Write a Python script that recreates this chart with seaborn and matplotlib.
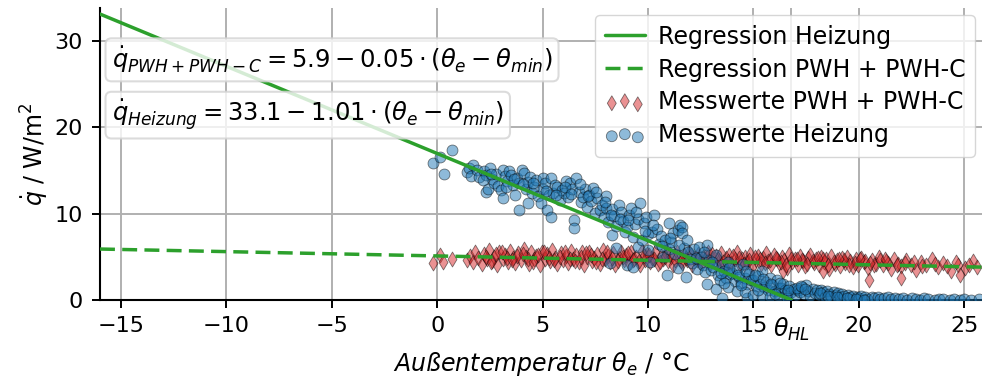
import numpy as np
import pandas as pd
import matplotlib
matplotlib.use("Agg")
import matplotlib.pyplot as plt
import seaborn as sns

# ---------------- data ----------------
reg_heiz_x = [-16.0, 16.8]
reg_heiz_y = [33.1, 0.0]
reg_pwh_x = [-16.0, 26.0]
reg_pwh_y = [5.9, 3.8]
theta_hl = 16.8

heiz_points = [
    (-0.2, 15.9), (0.15, 16.5), (0.7, 17.4), (0.3, 14.6),
    (1.4, 14.8), (1.5, 15.3), (1.7, 15.6), (1.6, 14.4), (1.9, 15.0), (2.0, 14.2), (2.2, 14.9),
    (2.3, 14.5), (2.3, 12.5), (2.4, 12.9), (2.5, 15.3), (2.6, 14.0), (2.7, 13.6), (2.8, 14.6),
    (2.9, 13.2), (3.0, 12.7), (3.1, 11.8), (3.1, 15.1), (3.2, 14.3), (3.3, 13.8), (3.4, 14.9),
    (3.5, 14.5), (3.6, 13.3), (3.7, 12.2), (3.8, 14.1), (3.9, 10.4), (3.9, 13.6), (4.0, 15.0),
    (4.1, 14.7), (4.2, 12.8), (4.3, 11.2), (4.3, 13.7), (4.4, 14.2), (4.5, 12.4), (4.6, 13.1),
    (4.7, 13.9), (4.8, 12.0), (4.9, 11.2), (5.0, 14.1), (5.0, 12.9),
    (5.1, 13.6), (5.2, 10.4), (5.3, 12.2), (5.4, 9.6), (5.4, 14.1), (5.5, 12.4), (5.6, 13.3),
    (5.7, 13.1), (5.8, 11.6), (5.9, 12.7), (6.0, 12.4), (6.1, 13.8), (6.2, 11.9), (6.3, 13.5),
    (6.4, 12.9), (6.5, 9.3), (6.5, 8.3), (6.6, 14.1), (6.7, 12.5), (6.8, 11.3), (6.9, 11.9),
    (7.0, 12.8), (7.1, 10.8), (7.2, 12.2), (7.3, 11.5), (7.4, 13.0), (7.5, 10.1), (7.6, 11.8),
    (7.7, 10.4), (7.8, 11.0), (7.9, 9.6), (8.0, 10.7), (8.0, 12.0),
    (8.1, 9.0), (8.2, 4.3), (8.3, 7.5), (8.3, 10.5), (8.4, 9.7), (8.5, 6.0), (8.5, 8.6),
    (8.6, 11.0), (8.7, 10.2), (8.8, 9.1), (8.9, 7.9), (9.0, 8.5), (9.0, 4.1), (9.1, 9.8),
    (9.2, 10.6), (9.3, 7.3), (9.3, 3.8), (9.4, 8.8), (9.5, 6.1), (9.5, 9.4), (9.6, 11.2),
    (9.7, 7.0), (9.8, 8.9), (9.9, 9.6), (10.0, 5.8), (10.0, 7.6), (10.1, 4.4), (10.2, 7.9),
    (10.3, 9.8), (10.4, 8.2), (10.5, 6.5), (10.6, 7.4), (10.7, 5.0), (10.8, 6.9), (10.9, 2.9),
    (11.0, 8.9), (11.0, 5.9), (11.1, 6.7), (11.2, 7.7), (11.3, 5.3), (11.4, 8.1), (11.4, 3.7),
    (11.5, 8.7), (11.6, 8.5), (11.6, 7.8), (11.7, 6.0), (11.8, 2.7), (11.9, 5.6), (12.0, 4.8),
    (12.1, 4.3), (12.2, 5.9), (12.3, 3.6), (12.4, 6.1), (12.5, 5.0), (12.6, 4.1), (12.7, 3.2),
    (12.8, 6.4), (12.9, 4.6), (13.0, 3.5), (13.1, 3.8), (13.2, 5.2), (13.3, 2.9), (13.4, 2.3),
    (13.5, 0.2), (13.5, 4.0), (13.6, 3.3), (13.7, 2.6), (13.8, 4.4), (13.9, 3.0), (14.0, 3.1),
    (14.1, 2.2), (14.2, 3.6), (14.3, 2.7), (14.4, 2.0), (14.5, 4.2), (14.6, 2.5), (14.7, 0.2),
    (14.7, 1.8), (14.8, 3.0), (14.9, 2.3), (15.0, 2.3), (15.1, 1.6), (15.2, 2.8), (15.3, 1.9),
    (15.4, 3.4), (15.5, 1.5), (15.6, 2.1), (15.7, 1.2), (15.8, 2.6), (15.9, 1.7), (16.0, 1.0),
    (16.1, 2.3), (16.2, 1.4), (16.3, 1.4), (16.4, 1.9), (16.5, 1.1), (16.6, 0.8), (16.7, 1.6),
    (16.8, 0.9), (16.9, 1.3),
    (12.8, 1.9), (13.2, 1.3), (13.8, 1.5), (14.2, 1.0), (14.6, 0.9), (15.0, 0.6), (15.4, 0.5),
    (15.8, 0.4), (16.2, 0.3), (16.6, 0.2), (13.6, 2.0), (14.4, 1.7), (15.2, 1.1), (16.0, 0.7),
    (17.0, 0.6), (17.1, 1.2), (17.2, 0.9), (17.3, 1.5), (17.4, 0.7), (17.5, 1.7), (17.6, 1.0),
    (17.7, 0.5), (17.8, 1.3), (17.9, 0.8), (18.0, 1.1), (18.1, 0.6), (18.2, 1.2), (18.3, 0.9),
    (18.4, 0.4), (18.5, 1.0), (18.6, 0.7), (18.7, 0.5), (18.8, 0.9), (18.9, 0.6), (19.0, 0.8),
    (19.1, 0.4), (19.2, 0.7), (19.3, 0.5), (19.5, 0.6), (19.6, 0.3), (19.7, 0.5), (19.9, 0.4),
    (20.0, 0.2), (20.1, 0.5), (20.3, 0.3), (20.4, 0.1), (20.6, 0.4), (20.7, 0.2), (20.9, 0.3),
    (21.0, 0.1), (21.2, 0.2), (21.4, 0.3), (21.5, 0.1), (21.7, 0.2), (21.9, 0.1), (22.1, 0.2),
    (22.3, 0.0), (22.5, 0.2), (22.7, 0.1), (22.9, 0.0), (23.1, 0.2), (23.3, 0.1), (23.6, 0.0),
    (23.8, 0.1), (24.0, 0.1), (24.3, 0.0), (24.5, 0.1), (24.8, 0.0), (25.0, 0.1), (25.3, 0.0),
    (25.7, 0.1), (17.05, 1.4), (17.25, 1.6), (17.45, 1.3),
    (2.15, 13.9), (2.55, 14.6), (3.25, 13.1), (3.65, 14.0), (4.05, 13.4), (4.55, 13.6),
    (5.15, 12.6), (5.65, 12.1), (6.05, 13.1), (6.35, 12.3), (6.75, 13.4), (7.15, 12.0),
    (7.55, 12.5), (7.95, 11.4), (8.25, 9.8), (8.65, 9.4), (9.05, 9.3), (9.45, 10.2),
    (9.85, 8.0), (10.25, 8.7), (10.65, 6.2), (11.05, 7.2), (11.45, 6.4), (11.85, 7.0),
    (12.25, 4.9), (12.65, 5.5), (13.05, 4.4), (13.45, 3.1), (13.85, 3.7), (14.25, 2.9),
    (14.65, 3.4), (15.05, 2.9), (15.45, 2.4), (15.85, 1.9), (16.25, 2.0), (16.65, 1.2),
    (18.15, 0.8), (18.55, 0.5), (18.95, 0.3), (19.45, 0.2), (19.85, 0.1), (20.25, 0.0),
]

pwh_points = [
    (-0.2, 4.3), (0.15, 5.2), (0.25, 4.4), (0.7, 4.8),
    (1.4, 4.6), (1.55, 5.1), (1.7, 4.4), (1.8, 5.5), (1.95, 4.9), (2.1, 4.2), (2.2, 5.3),
    (2.35, 4.7), (2.45, 5.8), (2.6, 4.5), (2.7, 5.0), (2.85, 4.1), (2.95, 5.6), (3.1, 4.8),
    (3.2, 5.2), (3.35, 4.4), (3.45, 5.7), (3.6, 4.9), (3.7, 4.3), (3.85, 5.4), (3.95, 4.6),
    (4.1, 5.9), (4.2, 5.0), (4.35, 4.2), (4.45, 5.5), (4.6, 4.7), (4.7, 5.1), (4.85, 4.0),
    (4.95, 5.6), (5.1, 4.8), (5.2, 5.3), (5.35, 4.5), (5.45, 5.8), (5.6, 4.9), (5.7, 4.2),
    (5.85, 5.4), (5.95, 4.6), (6.1, 5.1), (6.2, 4.3), (6.35, 5.7), (6.45, 4.8), (6.6, 5.2),
    (6.7, 4.4), (6.85, 5.5), (6.95, 4.1), (7.1, 5.0), (7.2, 5.6), (7.35, 4.5), (7.45, 4.9),
    (7.6, 5.3), (7.7, 4.2), (7.85, 5.8), (7.95, 4.7), (8.1, 5.1), (8.2, 4.4), (8.35, 5.4),
    (8.45, 4.0), (8.6, 4.9), (8.7, 5.6), (8.85, 4.6), (8.95, 5.2), (9.1, 4.3), (9.2, 5.5),
    (9.35, 4.8), (9.45, 5.0), (9.6, 4.1), (9.7, 5.7), (9.85, 4.6), (9.95, 5.3), (10.1, 4.4),
    (10.2, 4.9), (10.35, 5.5), (10.45, 4.2), (10.6, 5.1), (10.7, 4.7), (10.85, 5.4),
    (10.95, 4.5), (11.1, 5.0), (11.2, 4.0), (11.35, 5.6), (11.45, 4.8), (11.6, 4.3),
    (11.7, 5.2), (11.85, 4.6), (11.95, 5.5), (12.1, 4.1), (12.2, 4.9), (12.35, 5.3),
    (12.45, 4.4), (12.6, 5.0), (12.7, 4.7), (12.85, 5.6), (12.95, 4.2), (13.1, 4.8),
    (13.2, 5.1), (13.35, 4.5), (13.45, 5.4), (13.6, 3.9), (13.7, 4.9), (13.85, 5.2),
    (13.95, 4.3), (14.1, 4.7), (14.2, 5.5), (14.35, 4.1), (14.45, 4.8), (14.6, 5.0),
    (14.7, 4.4), (14.85, 5.3), (14.95, 3.8), (15.1, 4.6), (15.2, 5.1), (15.35, 4.2),
    (15.45, 4.9), (15.6, 5.4), (15.7, 4.5), (15.85, 4.0), (15.95, 5.2), (16.1, 4.7),
    (16.2, 4.3), (16.35, 5.0), (16.45, 4.6), (16.6, 3.7), (16.7, 5.3), (16.85, 4.4),
    (16.95, 4.8), (17.1, 4.1), (17.2, 5.1), (17.35, 4.5), (17.45, 3.9), (17.6, 4.9),
    (17.7, 5.2), (17.85, 4.3), (17.95, 4.7), (18.1, 4.0), (18.2, 5.0), (18.35, 4.4),
    (18.45, 4.8), (18.6, 3.6), (18.7, 5.1), (18.85, 4.2), (18.95, 4.6), (19.1, 3.9),
    (19.2, 4.9), (19.35, 4.3), (19.45, 5.0), (19.6, 4.5), (19.7, 3.8), (19.85, 4.7),
    (19.95, 4.1), (20.1, 4.9), (20.25, 4.4), (20.45, 3.7), (20.6, 4.6), (20.8, 4.2),
    (20.95, 5.0), (21.15, 4.0), (21.3, 4.5), (21.5, 3.6), (21.65, 4.8), (21.85, 4.2),
    (22.0, 3.9), (22.25, 4.6), (22.45, 4.1), (22.7, 3.5), (22.95, 4.4), (23.2, 4.0),
    (23.45, 4.7), (23.75, 3.8), (24.0, 4.3), (24.35, 3.4), (24.7, 4.1), (25.05, 3.7),
    (25.4, 4.5), (20.5, 2.3), (22.0, 2.6), (24.8, 2.9), (18.3, 3.3), (16.4, 3.4),
    (2.3, 5.0), (2.8, 5.3), (3.3, 4.9), (3.8, 5.1), (4.3, 4.8), (4.8, 5.2), (5.3, 4.9),
    (5.8, 5.0), (6.3, 4.7), (6.8, 5.0), (7.3, 5.2), (7.8, 4.8), (8.3, 4.9), (8.8, 5.0),
    (9.3, 4.6), (9.8, 5.1), (10.3, 4.7), (10.8, 5.0), (11.3, 4.6), (11.8, 4.9), (12.3, 4.6),
    (12.8, 5.0), (13.3, 4.7), (13.8, 4.5), (14.3, 4.9), (14.8, 4.6), (15.3, 4.7), (15.8, 4.6),
    (16.3, 4.4), (16.8, 4.7), (17.3, 4.6), (17.8, 4.5), (18.3, 4.7), (18.8, 4.4), (19.3, 4.6),
    (19.8, 4.3), (20.3, 4.5), (20.7, 4.1), (21.0, 4.6), (21.4, 4.3), (21.8, 4.0), (22.2, 4.3),
    (22.6, 4.4), (23.0, 3.9), (23.6, 4.2), (24.2, 3.9), (24.6, 4.4), (25.2, 4.0), (25.6, 3.8),
    (2.55, 4.4), (3.05, 5.5), (3.55, 4.6), (4.05, 5.3), (4.55, 4.4), (5.05, 5.5), (5.55, 4.6),
    (6.05, 5.6), (6.55, 4.5), (7.05, 5.4), (7.55, 4.4), (8.05, 5.5), (8.55, 4.5), (9.05, 5.4),
    (9.55, 4.5), (10.05, 5.2), (10.55, 4.4), (11.05, 5.3), (11.55, 4.5), (12.05, 5.2),
    (12.55, 4.3), (13.05, 5.3), (13.55, 4.4), (14.05, 5.1), (14.55, 4.2), (15.05, 5.0),
    (15.55, 4.3), (16.05, 4.9), (16.55, 4.1), (17.05, 4.8), (17.55, 4.2), (18.05, 4.9),
    (18.55, 4.1), (19.05, 4.7), (19.55, 4.0), (20.05, 4.7), (20.55, 4.3), (21.25, 4.8),
]

heiz_x = [p[0] for p in heiz_points]
heiz_y = [p[1] for p in heiz_points]
pwh_x = [p[0] for p in pwh_points]
pwh_y = [p[1] for p in pwh_points]

eq_pwh = r"$\dot{q}_{PWH+PWH-C} = 5.9 - 0.05 \cdot (\theta_e - \theta_{min})$"
eq_heiz = r"$\dot{q}_{Heizung} = 33.1 - 1.01 \cdot (\theta_e - \theta_{min})$"
x_ticks = [-15, -10, -5, 0, 5, 10, 15, 20, 25]
y_ticks = [0, 10, 20, 30]

# ---------------- plot ----------------
sns.set_style("ticks")
plt.rcParams["font.family"] = ["DejaVu Sans"]
plt.rcParams["mathtext.fontset"] = "dejavusans"
for k in ["text.color", "axes.labelcolor", "xtick.color", "ytick.color", "axes.edgecolor"]:
    plt.rcParams[k] = "black"

fig = plt.figure(figsize=(9.82, 3.8), dpi=100)
ax = fig.add_axes([100 / 982, 80 / 380, 882 / 982, 292 / 380])

green = "#2ca02c"
sns.lineplot(x=reg_heiz_x, y=reg_heiz_y, ax=ax, color=green, lw=2.5,
             label="Regression Heizung", zorder=4)
sns.lineplot(x=reg_pwh_x, y=reg_pwh_y, ax=ax, color=green, lw=2.5,
             linestyle=(0, (4.3, 2.1)), label="Regression PWH + PWH-C", zorder=4)

df_pwh = pd.DataFrame({"x": pwh_x, "y": pwh_y})
df_heiz = pd.DataFrame({"x": heiz_x, "y": heiz_y})
sns.scatterplot(data=df_pwh, x="x", y="y", ax=ax, marker="d", s=58,
                color="tab:red", alpha=0.5, edgecolor="black", linewidth=0.6,
                label="Messwerte PWH + PWH-C", zorder=2)
sns.scatterplot(data=df_heiz, x="x", y="y", ax=ax, marker="o", s=62,
                color="tab:blue", alpha=0.5, edgecolor="black", linewidth=0.6,
                label="Messwerte Heizung", zorder=3)

ax.set_xlim(-16, 25.84)
ax.set_ylim(0, 33.8)
ticks = x_ticks + [theta_hl]
labels = ["\u2212" + str(abs(t)) if t < 0 else str(t) for t in x_ticks] + [r"$\theta_{HL}$"]
ax.set_xticks(ticks)
ax.set_xticklabels(labels)
ax.set_yticks(y_ticks)
ax.tick_params(labelsize=16, width=1.4, length=5.5, colors="black")
ax.tick_params(axis="x", pad=6)
ax.tick_params(axis="y", pad=7)
hl_tick = ax.xaxis.get_major_ticks()[-1]
hl_tick.tick1line.set_color("#b0b0b0")
hl_tick.label1.set_fontsize(17)
ax.grid(True, color="#b0b0b0", lw=1.4)
ax.set_axisbelow(True)
for s in ["top", "right"]:
    ax.spines[s].set_visible(False)
for s in ["left", "bottom"]:
    ax.spines[s].set_linewidth(1.5)
    ax.spines[s].set_color("black")

ax.set_xlabel(r"$Au\ss entemperatur\ \theta_e$ / °C", fontsize=17, labelpad=5)
ax.set_ylabel(r"$\dot{q}$ / W/m$^2$", fontsize=17, labelpad=2)

bbox = dict(boxstyle="round,pad=0.25", fc="white", ec="lightgray", alpha=0.8, lw=1.5)
ax.text(-15.45, 27.8, eq_pwh, fontsize=17.5, ha="left", va="center", bbox=bbox, zorder=5)
ax.text(-15.45, 21.4, eq_heiz, fontsize=17.5, ha="left", va="center", bbox=bbox, zorder=5)

leg = ax.legend(loc="upper right", fontsize=17, scatterpoints=3, framealpha=0.8,
                borderaxespad=0.3, handlelength=1.7, handletextpad=0.55,
                labelspacing=0.38, borderpad=0.4)
leg.set_zorder(6)

fig.savefig("out.png", dpi=100)
